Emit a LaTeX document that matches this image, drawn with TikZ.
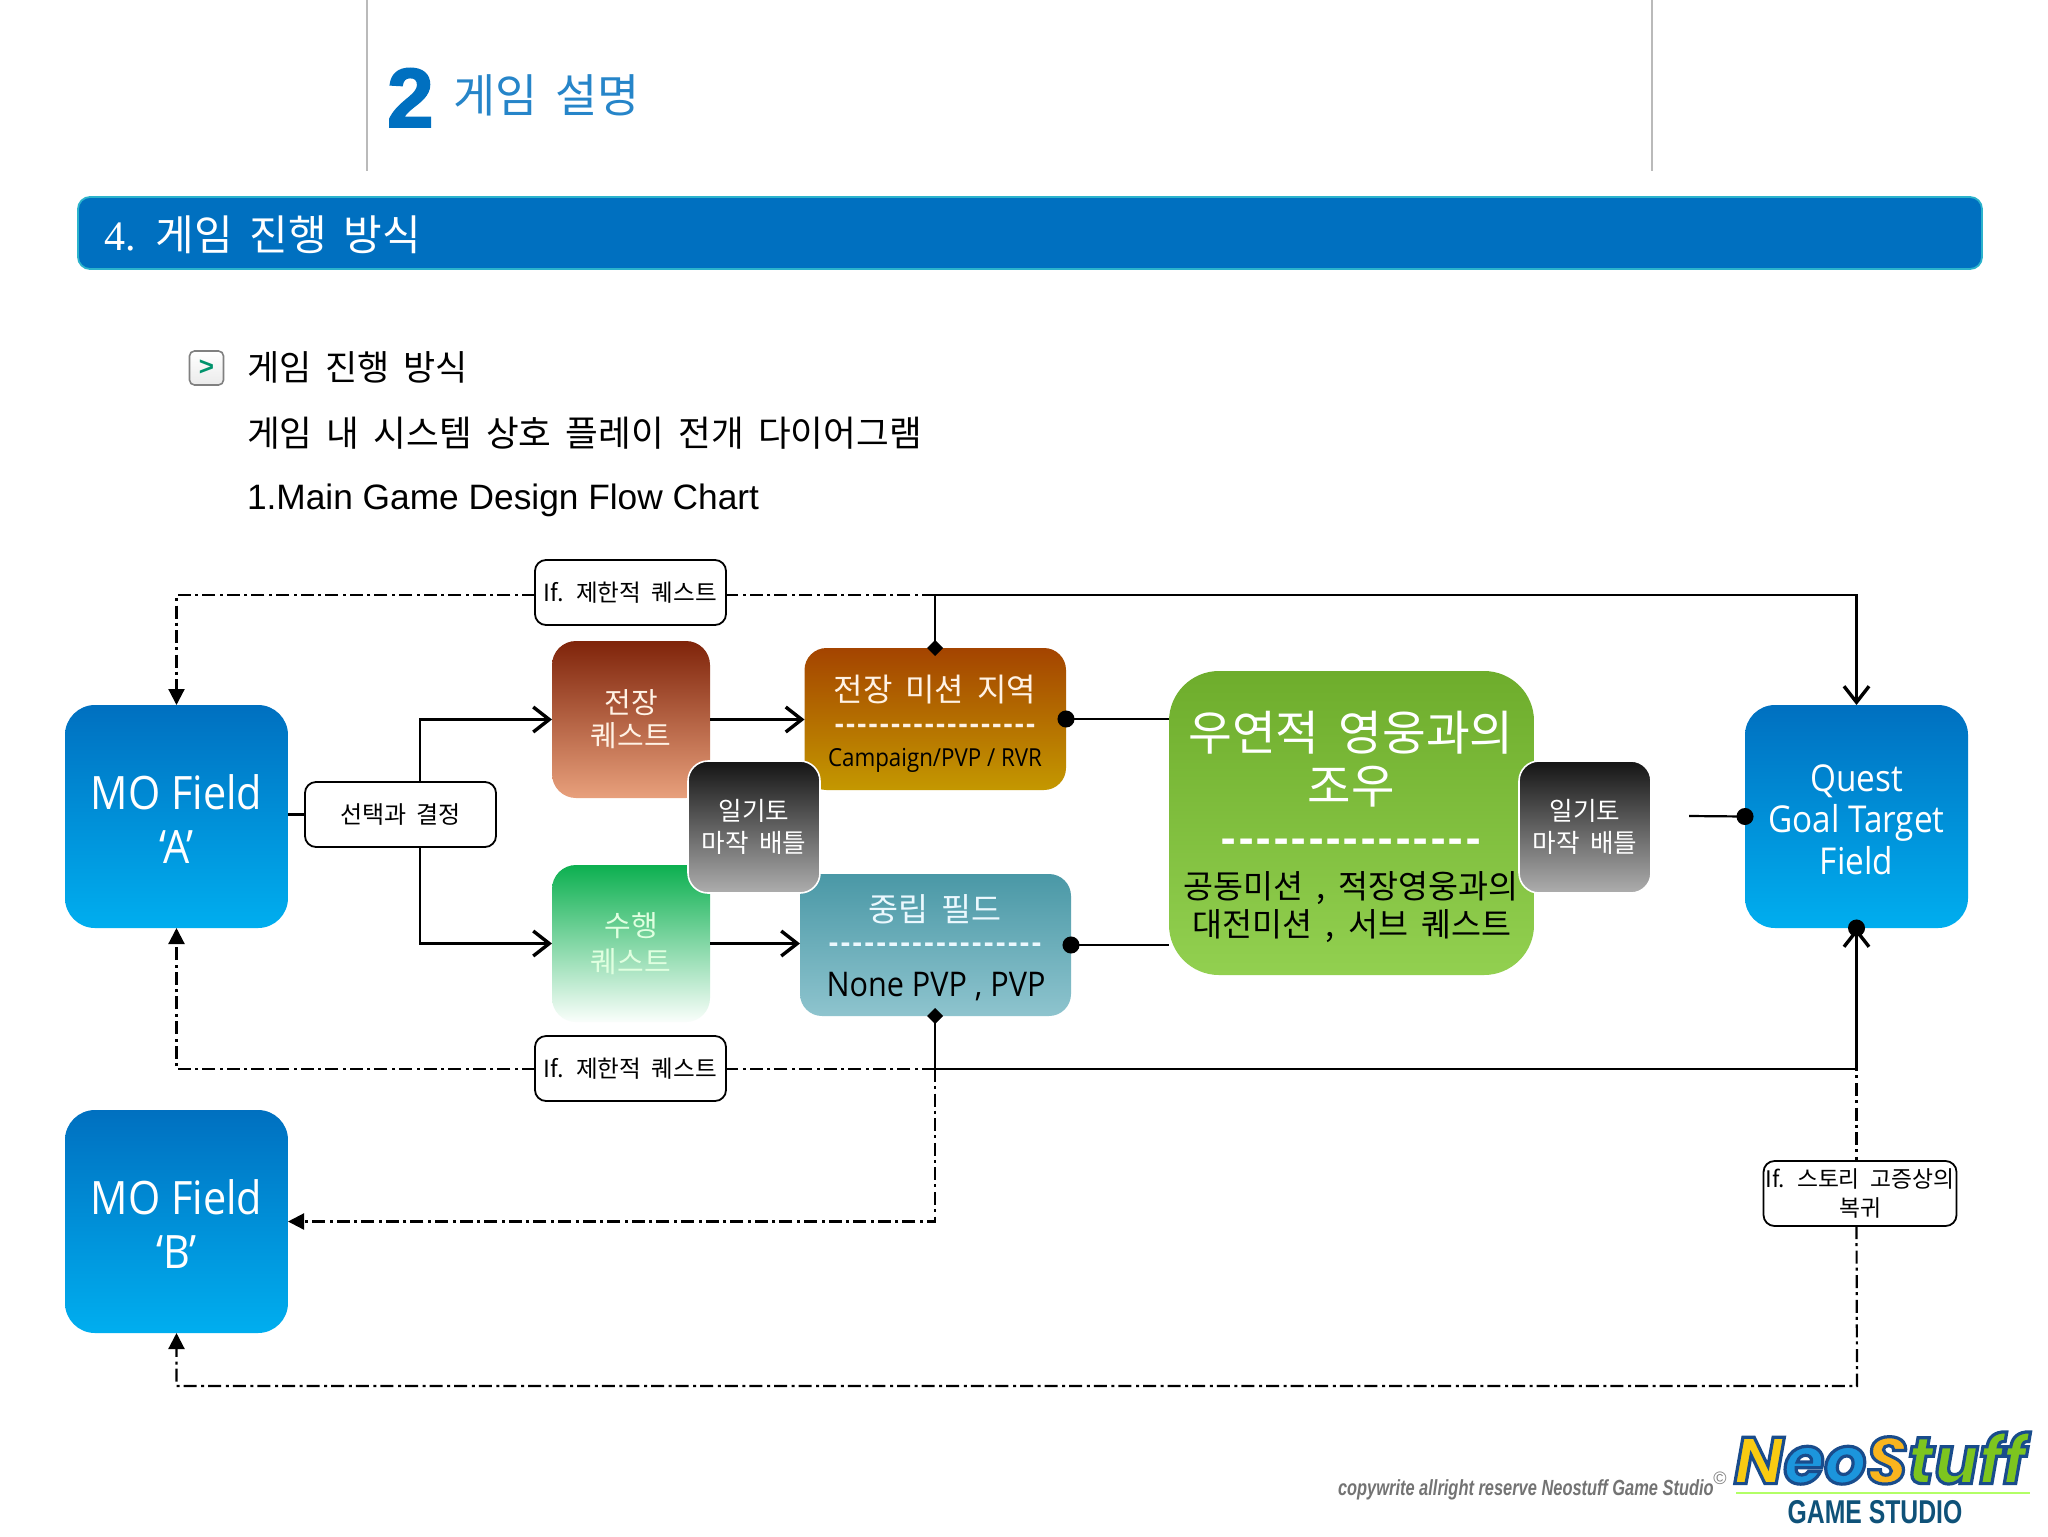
\documentclass[tikz,border=0pt]{standalone}
\usepackage{fontspec}
\usetikzlibrary{arrows.meta}
\setmainfont{Noto Sans CJK KR}
\newfontfamily\latf{Open Sans}[FakeStretch=0.9]
\newfontfamily\dashf{Open Sans}
\newfontfamily\arialf{Liberation Sans}
\newfontfamily\serf{Liberation Serif}
\newfontfamily\footf{Liberation Sans}[FakeStretch=0.75]
\newfontfamily\logof{Poppins}
\newcommand{\fs}[2][.4]{\fontsize{#2}{#2}\selectfont\spaceskip=#1em\relax}
\newcommand{\fl}[1]{\latf\fontsize{#1}{#1}\selectfont}
\newcommand{\fd}[2]{\dashf\bfseries\fontsize{#1}{#1}\selectfont\addfontfeature{LetterSpace=#2}}
\newcommand{\lc}[2]{\textcolor{#1}{\special{pdf:code 2 Tr 1.6 w 0.10 0.30 0.55 RG}#2}}
\definecolor{barblue}{HTML}{0070C0}
\definecolor{barline}{HTML}{2BB3CC}
\definecolor{moTop}{HTML}{0070C0}
\definecolor{moBot}{HTML}{00AEEF}
\definecolor{brownTop}{HTML}{7F240A}
\definecolor{brownBot}{HTML}{E8A07C}
\definecolor{gTop}{HTML}{0CB050}
\definecolor{gBot}{HTML}{FAFEFB}
\definecolor{orTop}{HTML}{A44400}
\definecolor{orBot}{HTML}{C49800}
\definecolor{tealTop}{HTML}{4A98A6}
\definecolor{tealBot}{HTML}{8EC4CE}
\definecolor{grTop}{HTML}{6EAD2C}
\definecolor{grBot}{HTML}{92D050}
\definecolor{logoY}{HTML}{F8CB12}
\definecolor{logoB}{HTML}{1C95DC}
\definecolor{logoO}{HTML}{F9B51E}
\definecolor{logoG}{HTML}{7DC51F}
\tikzset{
  x=0.5pt,y=-0.5pt,
  boxbase/.style={inner sep=0pt,outer sep=0pt,align=center},
  mofield/.style={boxbase,minimum width=111.5pt,minimum height=111.5pt,rounded corners=15pt,top color=moTop,bottom color=moBot,text=white,font=\fl{23}},
  whitebox/.style={boxbase,draw=black,fill=white,line width=0.9pt,rounded corners=5.5pt},
  iflabel/.style={whitebox,minimum width=95.5pt,minimum height=32.5pt,font={\fs[.45]{11.8}}},
  quester/.style={boxbase,minimum width=79pt,minimum height=78.5pt,rounded corners=12pt,text=white,font=\fs{14.5}},
  duel/.style={boxbase,minimum width=66pt,minimum height=66pt,rounded corners=10pt,draw=white,line width=0.8pt,top color=black!92,bottom color=black!32,text=white,font=\fs{12.8}},
  lbl/.style={inner sep=0pt,outer sep=0pt,align=center},
  conn/.style={draw=black,line width=1.1pt},
  dashdot/.style={draw=black,line width=1.1pt,dash pattern=on 6.5pt off 2pt on 1.5pt off 2.3pt},
  barb/.tip={Straight Barb[length=8pt,width=12.5pt,line width=1.7pt]},
  solidtri/.tip={Triangle[length=8pt,width=8pt]},
  dotend/.tip={Circle[length=8.5pt,width=8.5pt]},
  diamondend/.tip={Diamond[length=8pt,width=8pt]},
}
\begin{document}
\begin{tikzpicture}
\useasboundingbox (0,0) rectangle (2048,1536);
\fill[white] (0,0) rectangle (2048,1536);

% header rules
\coordinate (ruleLa) at (367,0); \coordinate (ruleLb) at (367,171);
\coordinate (ruleRa) at (1652,0); \coordinate (ruleRb) at (1652,171);
\draw[black!27,line width=0.7pt] (ruleLa) -- (ruleLb);
\draw[black!27,line width=0.7pt] (ruleRa) -- (ruleRb);

\node[lbl,anchor=base west,text=barblue,font=\arialf\bfseries\fontsize{42}{42}\selectfont\addfontfeature{FakeBold=2}] (numtwo) at (387,127) {2};
\node[lbl,anchor=west,text=barblue!85!white,font=\fs{22.9}] (chapter) at (453,95) {게임 설명};

\node[boxbase,minimum width=952pt,minimum height=36pt,rounded corners=6pt,fill=barblue,draw=barline,line width=0.9pt] (bar) at (1030,233) {};
\node[lbl,anchor=west,text=white,font=\fs{21}] (barText) at (104,235) {{\serf 4.} 게임 진행 방식};

% bullet and intro
\node[boxbase,minimum width=17pt,minimum height=17pt,rounded corners=2.5pt,draw=black!50,line width=0.8pt,top color=white,bottom color=black!8,text=teal!85!green,font=\arialf\bfseries\fontsize{13}{13}\selectfont] (bullet) at (206.5,368) {>};
\node[lbl,anchor=west,font=\fs{17.5}] (t1) at (247,367) {게임 진행 방식};
\node[lbl,anchor=west,font=\fs{17.8}] (t2) at (247,433) {게임 내 시스템 상호 플레이 전개 다이어그램};
\node[lbl,anchor=west,font=\arialf\fontsize{17.65}{17.65}\selectfont] (t3) at (247,500) {1.Main Game Design Flow Chart};

% nodes
\node[mofield] (mofa) at (176.5,816.5) {\rule{0pt}{19.5pt}MO Field\\[4pt]‘A’};
\node[mofield] (mofb) at (176.5,1221.5) {\rule{0pt}{19.5pt}MO Field\\[4pt]‘B’};
\node[mofield,font=\fl{18.5}] (quest) at (1856.5,816.5) {\rule{0pt}{16.6pt}Quest\\[2.2pt]Goal Target\\[2.2pt]Field};
\node[whitebox,minimum width=95.5pt,minimum height=32.5pt,font=\fs{12}] (sel) at (400.5,814.5) {선택과 결정};
\node[iflabel] (ifT) at (630.5,592.5) {If. 제한적 퀘스트};
\node[iflabel] (ifB) at (630.5,1068.5) {If. 제한적 퀘스트};
\node[whitebox,minimum width=96.5pt,minimum height=32.5pt,font={\fs[.45]{11.4}}] (story) at (1860,1193.5) {If. 스토리 고증상의\\[3pt]복귀};

\node[quester,top color=brownTop,bottom color=brownBot,text=white!90!orange] (jq) at (631,719.5) {전장\\[2pt]퀘스트};
\node[quester,top color=gTop,bottom color=gBot,text=white!88!green] (sq) at (631,943.5) {수행\\[3.5pt]퀘스트};

\node[boxbase,minimum width=130.75pt,minimum height=71pt,rounded corners=11pt,top color=orTop,bottom color=orBot] (orange) at (935.25,719) {};
\node[lbl,text=white!90!orange,font=\fs{16}] (orange1) at (935,690) {전장 미션 지역};
\node[lbl,text=white!90!orange,font={\fd{14}{8}}] (orange2) at (935,729) {------------------};
\node[lbl,font=\fl{12.4}] (orange3) at (935,760) {Campaign/PVP / RVR};

\node[boxbase,minimum width=135.5pt,minimum height=71pt,rounded corners=11pt,top color=tealTop,bottom color=tealBot] (teal2) at (935.5,945) {};
\node[lbl,text=white!92!cyan,font=\fs{16.3}] (teal1) at (935,909) {중립 필드};
\node[lbl,text=white!92!cyan,font={\fd{14.5}{9}}] (teal3) at (935,948) {------------------};
\node[lbl,font=\fl{17}] (teal4) at (936,987) {None PVP , PVP};

\node[duel] (ilL) at (754,827) {일기토\\[3.5pt]마작 배틀};

\node[boxbase,minimum width=182.5pt,minimum height=152pt,rounded corners=25pt,top color=grTop,bottom color=grBot] (green) at (1351.5,823) {};
\node[lbl,text=white,font=\fs{23.8}] (green1) at (1351,733) {우연적 영웅과의};
\node[lbl,text=white,font=\fs{23.6}] (green2) at (1351,787) {조우};
\node[lbl,text=white,font={\fd{22}{7.5}}] (green3) at (1351,846) {---------------};
\node[lbl,font=\fs{16.3}] (green4) at (1351,888) {공동미션 , 적장영웅과의};
\node[lbl,font=\fs{16.3}] (green5) at (1352,926) {대전미션 , 서브 퀘스트};

\node[duel] (ilR) at (1585,827) {일기토\\[3.5pt]마작 배틀};

% junctions
\coordinate (jt) at (935,595);
\coordinate (jb) at (935,1069);
\coordinate (jl) at (1857,1386);
\coordinate (selx) at (420,816);
\coordinate (rstub) at (1689,816);

% solid connectors
\draw[conn] (sel.west) -- (sel.west -| mofa.east);
\draw[conn,-{barb}] (selx |- sel.north) -- (selx |- jq.center) -- (jq.west);
\draw[conn,-{barb}] (selx |- sel.south) -- (selx |- sq.center) -- (sq.west);
\draw[conn,-{barb}] (jq.east) -- (orange.west |- jq.east);
\draw[conn,-{barb}] (sq.east) -- (teal2.west |- sq.east);
\draw[conn,{dotend}-,shorten <=-4.25pt] (orange.east) -- (orange.east -| green.west);
\draw[conn,{dotend}-,shorten <=-4.25pt] (teal2.east) -- (teal2.east -| green.west);
\draw[conn,-{dotend},shorten >=-4.25pt] (rstub) -- (quest.west);
\draw[conn,{diamondend}-{barb},shorten <=-4pt] (orange.north -| jt) -- (jt) -- (jt -| quest) -- (quest.north);
\draw[conn,{diamondend}-{barb},shorten <=-4pt] (teal2.south -| jb) -- (jb) -- (jb -| quest) -- (quest.south);

% dash-dotted connectors
\draw[dashdot] (jt) -- (jt -| ifT.east);
\draw[dashdot,-{solidtri}] (jt -| ifT.west) -- (jt -| mofa) -- (mofa.north);
\draw[dashdot] (jb) -- (jb -| ifB.east);
\draw[dashdot,-{solidtri}] (jb -| ifB.west) -- (jb -| mofa) -- (mofa.south);
\draw[dashdot,-{solidtri}] (jb) -- (jb |- mofb.east) -- (mofb.east);
\draw[dashdot,{dotend}-,shorten <=-4.25pt] (quest.south) -- (quest.south |- story.north);
\draw[dashdot,-{solidtri}] (quest.south |- story.south) -- (jl) -- (jl -| mofb) -- (mofb.south);

% footer
\node[lbl,anchor=west,text=black!55,font=\footf\bfseries\itshape\fontsize{10.95}{10.95}\selectfont] (copy) at (1338,1490) {copywrite allright reserve Neostuff Game Studio};
\node[lbl,text=black!50,font=\arialf\fontsize{9}{9}\selectfont] (copysym) at (1720,1478) {©};
\node[lbl,anchor=west,font=\logof\bfseries\itshape\fontsize{33}{33}\selectfont] (logo) at (1734,1458) {\lc{logoY}{N}\lc{logoB}{e}\lc{logoB}{o}\lc{logoO}{S}\lc{logoG}{t}\lc{logoG}{u}\lc{logoG}{f}\lc{logoG}{f}\special{pdf:code 0 Tr 1 w 0 0 0 RG}};
\coordinate (logoLa) at (1736,1493); \coordinate (logoLb) at (2030,1493);
\draw[green!50!yellow!60!white,line width=0.6pt] (logoLa) -- (logoLb);
\node[lbl,text=logoB!55!black,font=\footf\bfseries\fontsize{16.5}{16.5}\selectfont] (studio) at (1875,1512) {GAME STUDIO};
\end{tikzpicture}
\end{document}
